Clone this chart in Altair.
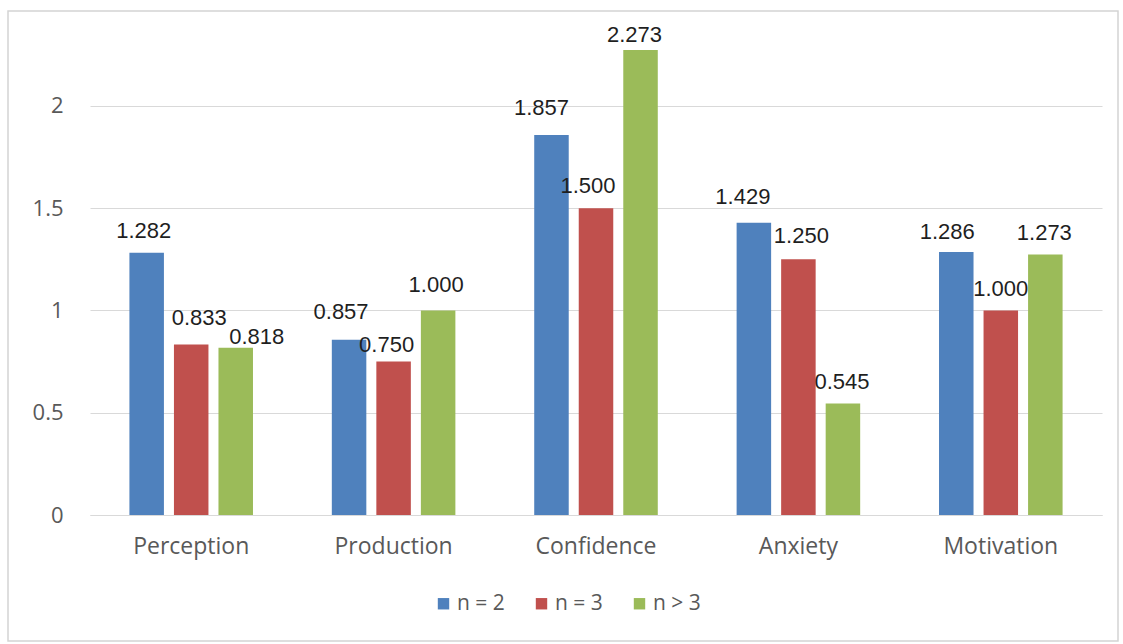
import altair as alt
import pandas as pd

# Mean scores per dimension, by group size
categories = ["Perception", "Production", "Confidence", "Anxiety", "Motivation"]
series_names = ["n = 2", "n = 3", "n > 3"]
n_eq_2 = [1.282, 0.857, 1.857, 1.429, 1.286]
n_eq_3 = [0.833, 0.750, 1.500, 1.250, 1.000]
n_gt_3 = [0.818, 1.000, 2.273, 0.545, 1.273]
y_ticks = [0, 0.5, 1, 1.5, 2]

colors = ["#4F81BD", "#C0504D", "#9BBB59"]

rows = []
for ci, cat in enumerate(categories):
    for si, vals in enumerate([n_eq_2, n_eq_3, n_gt_3]):
        rows.append({"category": cat, "series": series_names[si], "value": vals[ci],
                     "ci": ci, "si": si})
df = pd.DataFrame(rows)

W, H = 1012, 493
LEFT, TOP = 90, 22

x_enc = alt.X("category:N", sort=categories, title=None,
              scale=alt.Scale(paddingInner=0.34, paddingOuter=0.17),
              axis=alt.Axis(labelAngle=0, ticks=False, domainColor="#d9d9d9",
                            labelFont="Open Sans", labelFontSize=23,
                            labelColor="#595959", labelPadding=20))
xoff_enc = alt.XOffset("series:N", sort=series_names,
                       scale=alt.Scale(paddingInner=0.225, paddingOuter=0.1125))
y_enc = alt.Y("value:Q", title=None,
              scale=alt.Scale(domain=[0, 2.41], nice=False, zero=True),
              axis=alt.Axis(values=y_ticks, format="~g", domain=False, ticks=False,
                            grid=True, gridColor="#d9d9d9", labelFont="Open Sans",
                            labelFontSize=22, labelColor="#595959", labelPadding=27))

bars = alt.Chart(df).mark_bar().encode(
    x=x_enc,
    xOffset=xoff_enc,
    y=y_enc,
    color=alt.Color("series:N", sort=series_names,
                    scale=alt.Scale(domain=series_names, range=colors),
                    legend=alt.Legend(title=None, orient="none", direction="horizontal",
                                      legendX=343, legendY=571,
                                      symbolType="square", symbolSize=130,
                                      symbolStrokeWidth=0, labelFont="Open Sans",
                                      labelFontSize=21, labelColor="#595959",
                                      columnPadding=26, labelOffset=3)),
)

# Value labels, nudged apart where neighbours would collide
LABEL_SHIFT = [
    [(-3, -22), (8, -27), (21, -11)],
    [(-8, -28), (-7, -17), (-2, -25)],
    [(-10, -27), (-8, -22), (-6, -15)],
    [(-11, -26), (3, -23), (-1, -22)],
    [(-9, -20), (0, -21), (-1, -22)],
]

label_layers = []
for ci in range(len(categories)):
    for si in range(len(series_names)):
        dx, dy = LABEL_SHIFT[ci][si]
        sub = df[(df.ci == ci) & (df.si == si)]
        label_layers.append(
            alt.Chart(sub).mark_text(font="Liberation Sans", fontSize=22,
                                     color="#1f1f1f", baseline="middle",
                                     dx=dx, dy=dy).encode(
                x=alt.X("category:N", sort=categories),
                xOffset=alt.XOffset("series:N", sort=series_names),
                y=alt.Y("value:Q"),
                text=alt.Text("value:Q", format=".3f"),
            )
        )

frame = alt.Chart(alt.Data(values=[{}])).mark_rect(
    fill=None, stroke="#d4d4d4", strokeWidth=1.5
).encode(
    x=alt.value(8 - LEFT), x2=alt.value(1118 - LEFT),
    y=alt.value(11 - TOP), y2=alt.value(641 - TOP),
)

chart = alt.layer(bars, *label_layers, frame).properties(
    width=W, height=H,
    autosize=alt.AutoSizeParams(type="none"),
    padding={"left": LEFT, "top": TOP, "right": 1123 - LEFT - W, "bottom": 644 - TOP - H},
    background="white",
).configure_view(stroke=None)

chart.save("out.html", embed_options={"renderer": "svg", "actions": False})
